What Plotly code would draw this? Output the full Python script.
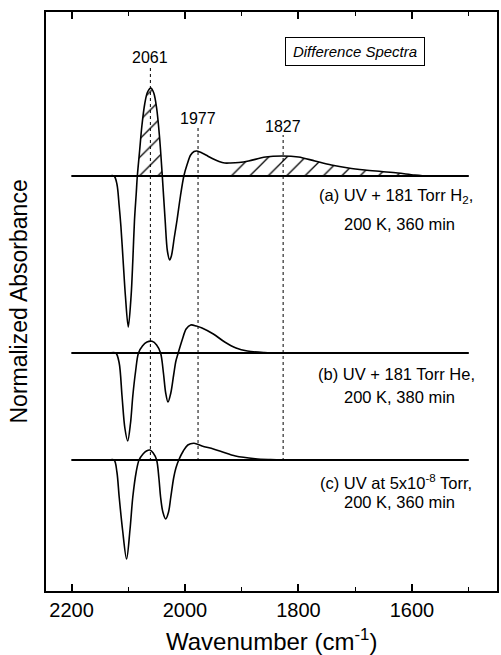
import numpy as np
import plotly.graph_objects as go

# ---------------- data ----------------
# Spectrum (a): UV + 181 Torr H2, 200 K, 360 min
wn_a = [2200, 2160, 2135, 2125, 2120, 2116, 2113, 2109, 2105, 2100, 2095, 2092,
        2089, 2086, 2084, 2080, 2076, 2071, 2066, 2060, 2055, 2050, 2045, 2040,
        2035, 2031, 2027, 2024, 2019, 2014, 2008, 2002, 1996, 1990, 1984, 1979,
        1970, 1960, 1950, 1940, 1930, 1920, 1905, 1888, 1858, 1829, 1800, 1771,
        1742, 1712, 1683, 1654, 1625, 1595, 1572, 1540, 1500]
abs_a = [0, 0, 0, 0, -0.08, -0.30, -0.50, -0.85, -1.20, -1.51, -1.20, -0.85,
         -0.44, -0.18, 0, 0.25, 0.50, 0.72, 0.84, 0.88, 0.83, 0.68, 0.40, 0,
         -0.44, -0.75, -0.84, -0.80, -0.62, -0.44, -0.20, 0, 0.12, 0.21, 0.245, 0.25,
         0.23, 0.20, 0.17, 0.145, 0.13, 0.13, 0.135, 0.15, 0.19, 0.20, 0.19, 0.15,
         0.11, 0.08, 0.06, 0.045, 0.03, 0.01, 0, 0, 0]

# Spectrum (b): UV + 181 Torr He, 200 K, 380 min
wn_b = [2200, 2160, 2135, 2122, 2116, 2111, 2106, 2101, 2096, 2092, 2087, 2082,
        2075, 2067, 2058, 2050, 2043, 2038, 2034, 2030, 2025, 2020, 2016, 2012,
        2005, 1998, 1990, 1980, 1970, 1950, 1930, 1910, 1890, 1860, 1830, 1700,
        1500]
abs_b = [0, 0, 0, 0, -0.10, -0.43, -0.75, -0.88, -0.70, -0.43, -0.18, 0,
         0.07, 0.11, 0.117, 0.08, 0, -0.20, -0.40, -0.49, -0.40, -0.22, -0.08, 0,
         0.13, 0.24, 0.28, 0.27, 0.25, 0.19, 0.11, 0.05, 0.02, 0.005, 0, 0,
         0]

# Spectrum (c): UV at 5x10^-8 Torr, 200 K, 360 min
wn_c = [2200, 2160, 2135, 2125, 2120, 2116, 2110, 2103, 2097, 2092, 2086, 2081,
        2074, 2068, 2062, 2056, 2050, 2046, 2043, 2039, 2034, 2029, 2025, 2020,
        2016, 2011, 2003, 1995, 1984, 1970, 1950, 1935, 1911, 1876, 1850, 1830,
        1700, 1500]
abs_c = [0, 0, 0, 0, -0.12, -0.37, -0.70, -0.99, -0.70, -0.37, -0.12, 0,
         0.06, 0.09, 0.10, 0.07, 0, -0.18, -0.37, -0.52, -0.59, -0.52, -0.37, -0.18,
         -0.08, 0, 0.09, 0.15, 0.167, 0.14, 0.11, 0.083, 0.04, 0.013, 0.004, 0,
         0, 0]

peak_labels = [2061, 1977, 1827]
hatch_ranges = [(2084, 2040), (1923, 1575)]      # hatched bands of spectrum (a)
tick_vals = [2200, 2000, 1800, 1600]
tick_text = ["2200", "2000", "1800", "1600"]

label_a = ["(a) UV + 181 Torr H<sub>2</sub>,", "200 K, 360 min"]
label_b = ["(b) UV + 181 Torr He,", "200 K, 380 min"]
label_c = ["(c) UV at 5x10<sup>-8</sup> Torr,", "200 K, 360 min"]

# ---------------- layout constants ----------------
FONT = "Liberation Sans, Arial, Helvetica, sans-serif"
X_RANGE = [2245, 1450]
Y_RANGE = [0, 5.79]
BASE_START, BASE_END = 2200, 1500
offsets = {"a": 4.15, "b": 2.38, "c": 1.31}
label_pos = {"a": (3.95, 3.67), "b": (2.17, 1.94), "c": (1.09, 0.89)}
label_x = (1628, 1621)
peak_label_y = [5.335, 4.73, 4.65]
peak_line_top = [5.26, 4.63, 4.56]
peak_line_bottom = 1.30

spectra = {"a": (wn_a, abs_a), "b": (wn_b, abs_b), "c": (wn_c, abs_c)}
labels = {"a": label_a, "b": label_b, "c": label_c}

fig = go.Figure()

# hatched areas of spectrum (a)
wa = np.array(wn_a, dtype=float)
aa = np.array(abs_a, dtype=float)
for hi, lo in hatch_ranges:
    m = (wa <= hi) & (wa >= lo)
    xs = wa[m]
    fig.add_trace(go.Scatter(x=xs, y=np.full(xs.shape, offsets["a"]), mode="lines",
                             line=dict(width=0, color="rgba(0,0,0,0)"),
                             showlegend=False, hoverinfo="skip"))
    fig.add_trace(go.Scatter(x=xs, y=aa[m] + offsets["a"], mode="lines",
                             line=dict(width=0, color="rgba(0,0,0,0)", shape="spline"),
                             fill="tonexty", fillcolor="white",
                             fillpattern=dict(shape="/", fgcolor="black", bgcolor="white",
                                              fgopacity=1, fillmode="replace",
                                              size=13, solidity=0.1),
                             showlegend=False, hoverinfo="skip"))

# baselines and spectra
for key, (wn, ab) in spectra.items():
    off = offsets[key]
    fig.add_trace(go.Scatter(x=[BASE_START, BASE_END], y=[off, off], mode="lines",
                             line=dict(color="black", width=2),
                             showlegend=False, hoverinfo="skip"))
    fig.add_trace(go.Scatter(x=wn, y=np.array(ab) + off, mode="lines",
                             line=dict(color="black", width=1.6, shape="spline", smoothing=0.9),
                             showlegend=False))

# dotted peak markers + labels
for wn, ly, top in zip(peak_labels, peak_label_y, peak_line_top):
    fig.add_shape(type="line", xref="x", yref="y", x0=wn, x1=wn, y0=peak_line_bottom, y1=top,
                  line=dict(color="black", width=1, dash="dot"))
    fig.add_annotation(x=wn, y=ly, xref="x", yref="y", text=str(wn), showarrow=False,
                       font=dict(family=FONT, size=16, color="black"),
                       xanchor="center", yanchor="middle")

# spectrum labels
for key in ["a", "b", "c"]:
    y1, y2 = label_pos[key]
    for txt, yy, xx in zip(labels[key], (y1, y2), label_x):
        fig.add_annotation(x=xx, y=yy, xref="x", yref="y", text=txt, showarrow=False,
                           font=dict(family=FONT, size=16.5, color="black"),
                           xanchor="center", yanchor="middle")

# "Difference Spectra" box
fig.add_annotation(x=1700, y=5.40, xref="x", yref="y", text="<i>Difference Spectra</i>",
                   showarrow=False, font=dict(family=FONT, size=15, color="black"),
                   bordercolor="black", borderwidth=1, borderpad=5, width=128,
                   bgcolor="white", xanchor="center", yanchor="middle")

# y-axis title
fig.add_annotation(x=0, y=0.5, xref="paper", yref="paper", xshift=-28,
                   text="Normalized Absorbance", textangle=-90, showarrow=False,
                   font=dict(family=FONT, size=23, color="black"),
                   xanchor="center", yanchor="middle")
# x-axis title
fig.add_annotation(x=0.5, y=0, xref="paper", yref="paper", yshift=-49,
                   text="Wavenumber (cm<sup>-1</sup>)", showarrow=False,
                   font=dict(family=FONT, size=24, color="black"),
                   xanchor="center", yanchor="middle")

fig.update_layout(
    width=501, height=655,
    margin=dict(l=46, r=2, t=12, b=64),
    paper_bgcolor="white", plot_bgcolor="white",
    showlegend=False,
    font=dict(family=FONT, color="black"),
    xaxis=dict(range=X_RANGE, showgrid=False, zeroline=False,
               showline=True, linecolor="black", linewidth=2, mirror="ticks",
               ticks="inside", ticklen=7, tickwidth=1.5, tickcolor="black",
               tickvals=tick_vals, ticktext=tick_text,
               tickfont=dict(family=FONT, size=20, color="black"),
               minor=dict(ticks="inside", ticklen=4, tickwidth=1, tickcolor="black",
                          tick0=1500, dtick=100, showgrid=False)),
    yaxis=dict(range=Y_RANGE, showgrid=False, zeroline=False,
               showline=True, linecolor="black", linewidth=2, mirror=True,
               ticks="", showticklabels=False),
)

fig.write_html("out.html")
